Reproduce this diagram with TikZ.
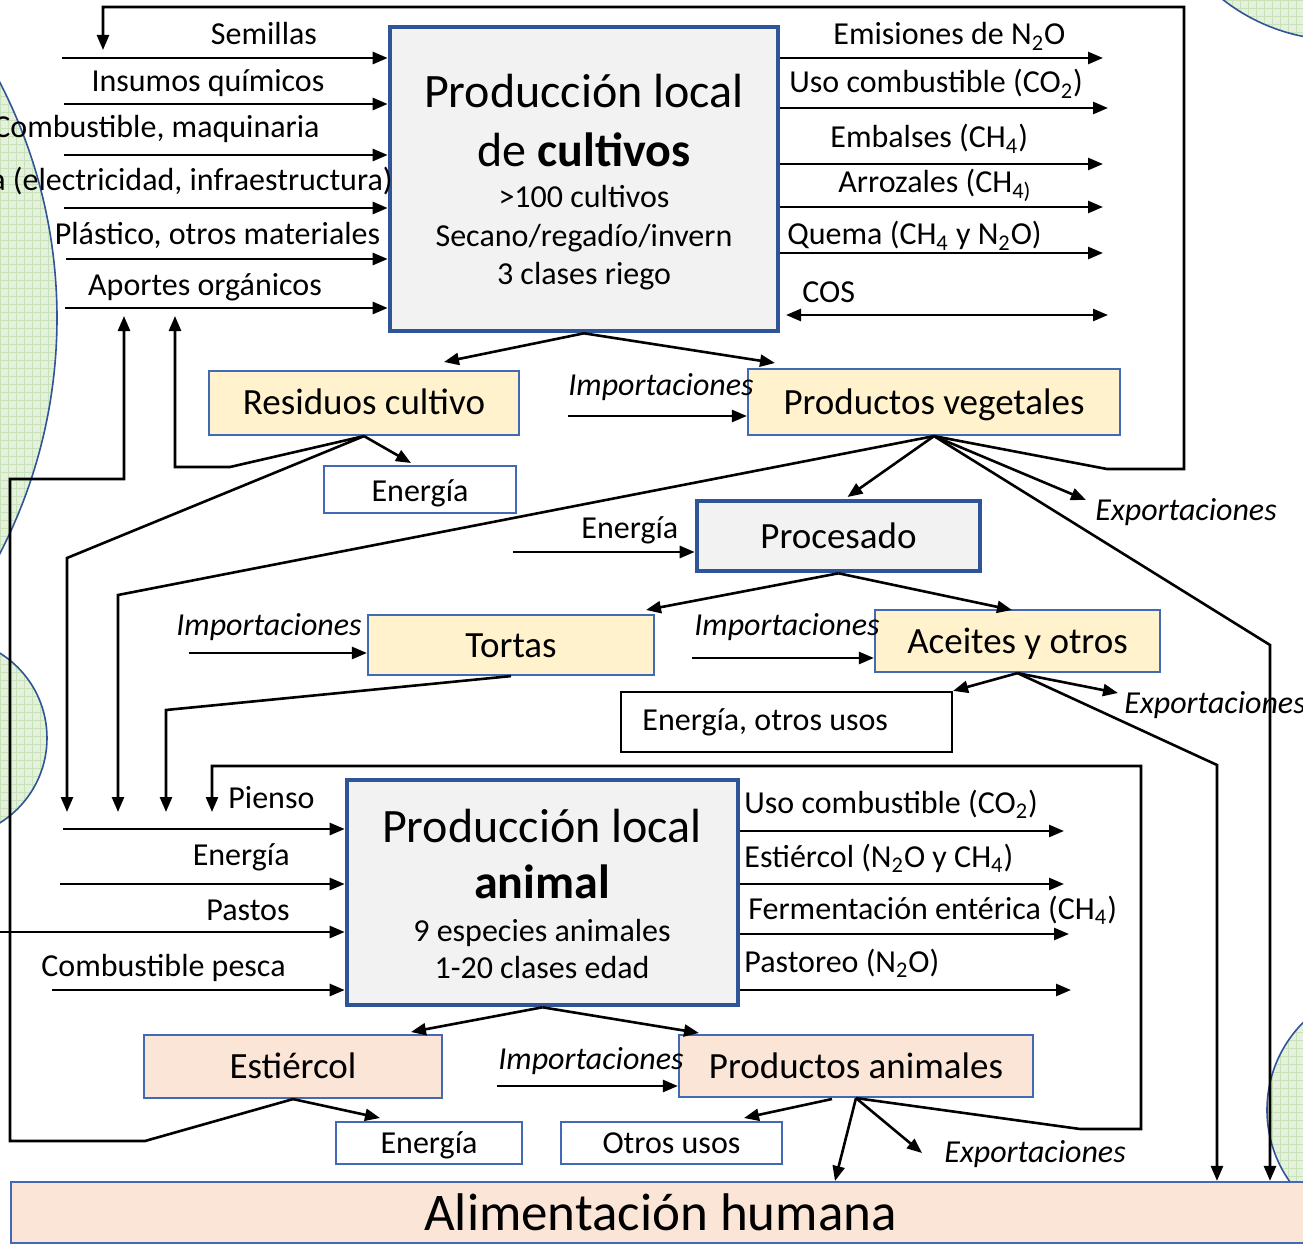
\documentclass[tikz,border=0pt]{standalone}
\usepackage{fontspec}
\setmainfont{Carlito}
\usetikzlibrary{arrows.meta}
\definecolor{dblue}{RGB}{47,85,151}
\definecolor{tblue}{RGB}{65,105,180}
\definecolor{boxgray}{RGB}{242,242,242}
\definecolor{boxyel}{RGB}{255,242,204}
\definecolor{boxpch}{RGB}{251,229,214}
\definecolor{cgreen}{RGB}{228,241,220}
\definecolor{cgrid}{RGB}{200,225,185}
\newcommand\mysub[1]{\textsubscript{#1}}
\begin{document}
\begin{tikzpicture}[x=0.5pt,y=-0.5pt,
  arr/.style={-{Triangle[length=7.5pt,width=6pt]}, line width=1.3pt},
  darr/.style={{Triangle[length=7.5pt,width=6pt]}-{Triangle[length=7.5pt,width=6pt]}, line width=1.3pt},
  lab/.style={font=\fontsize{16}{19}\selectfont, inner sep=0pt},
  ilab/.style={font=\fontsize{16}{19}\selectfont\itshape, inner sep=0pt},
  ttl/.style={font=\fontsize{24}{28}\selectfont, inner sep=0pt},
  bigbox/.style={draw=dblue, line width=2.3pt, fill=boxgray, inner sep=0pt},
  ybox/.style={draw=tblue, line width=1.1pt, fill=boxyel, inner sep=0pt, font=\fontsize{18.5}{22}\selectfont, text height=12pt, text depth=0pt},
  pbox/.style={draw=tblue, line width=1.1pt, fill=boxpch, inner sep=0pt, font=\fontsize{18.5}{22}\selectfont, text height=12pt, text depth=0pt},
  wbox/.style={draw=tblue, line width=1.1pt, fill=white, inner sep=0pt, font=\fontsize{16}{19}\selectfont, text height=12pt, text depth=0pt},
  circ/.style={draw=dblue, line width=0.8pt}
]
\useasboundingbox (0,0) rectangle (1303,1247);
\clip (0,0) rectangle (1303,1247);

% background circles
\foreach \cx/\cy/\r in {-456/318/256.5, -53/738/50, 1340/-150/95, 1391/1110/62}{
  \begin{scope}
    \clip (\cx,\cy) circle[radius=\r pt];
    \fill[cgreen] (\cx,\cy) circle[radius=\r pt];
    \draw[cgrid, line width=0.4pt, step=4pt] (-1000,-500) grid (1400,1300);
  \end{scope}
  \draw[circ] (\cx,\cy) circle[radius=\r pt];
}

% boxes
\node[bigbox, minimum width=194pt, minimum height=152pt] (crop) at (584,179) {};
\node[bigbox, minimum width=141.5pt, minimum height=35pt, font=\fontsize{18.5}{22}\selectfont, text height=12pt, text depth=0pt] (proc) at (838.5,536) {Procesado};
\node[bigbox, minimum width=195.5pt, minimum height=112.5pt] (ani) at (542.5,892.5) {};
\node[ybox, minimum width=155pt, minimum height=32pt] (res) at (364,403) {Residuos cultivo};
\node[ybox, minimum width=186pt, minimum height=33pt] (pv) at (934,402) {Productos vegetales};
\node[wbox, minimum width=96pt, minimum height=23.5pt] (en1) at (420,489.5) {Energía};
\node[ybox, minimum width=143pt, minimum height=30pt] (tor) at (511,645) {Tortas};
\node[ybox, minimum width=142.5pt, minimum height=31pt] (ace) at (1017.5,641) {Aceites y otros};
\node[draw=black, line width=1.1pt, fill=white, inner sep=0pt, minimum width=165.5pt, minimum height=30pt] (eou) at (786.5,722) {};
\node[lab, anchor=base west] (eout) at (642,730) {Energía, otros usos};
\node[pbox, minimum width=149pt, minimum height=31.5pt] (est) at (293,1066.5) {Estiércol};
\node[pbox, minimum width=177pt, minimum height=31pt] (pa) at (856,1066) {Productos animales};
\node[wbox, minimum width=93pt, minimum height=21pt, text height=10pt] (en2) at (429,1143) {Energía};
\node[wbox, minimum width=110.5pt, minimum height=21pt, text height=10pt] (otr) at (671.5,1143) {Otros usos};
\node[pbox, minimum width=649.5pt, minimum height=30.5pt, font=\fontsize{26.5}{31}\selectfont, text height=17.5pt] (ali) at (660.5,1212.5) {Alimentación humana};

% big box texts
\node[ttl, anchor=base] (c1) at (584,108) {Producción local};
\node[ttl, anchor=base] (c2) at (584,167) {de \textbf{cultivos}};
\node[lab, anchor=base] (c3) at (584,208) {>100 cultivos};
\node[lab, anchor=base] (c4) at (584,247) {Secano/regadío/invern};
\node[lab, anchor=base] (c5) at (584,285) {3 clases riego};
\node[ttl, anchor=base] (a1t) at (542,842) {Producción local};
\node[ttl, anchor=base] (a2t) at (542,898) {\textbf{animal}};
\node[lab, anchor=base] (a3t) at (542,941) {9 especies animales};
\node[lab, anchor=base] (a4t) at (542,978) {1-20 clases edad};

% labels top-left
\node[lab, anchor=base] (l1) at (264,45) {Semillas};
\node[lab, anchor=base] (l2) at (208,92) {Insumos químicos};
\node[lab, anchor=base east] (l3) at (320,138) {Combustible, maquinaria};
\node[lab, anchor=base east] (l4) at (393,191) {Energía (electricidad, infraestructura)};
\node[lab, anchor=base] (l5) at (217.5,245) {Plástico, otros materiales};
\node[lab, anchor=base] (l6) at (205,295) {Aportes orgánicos};
% labels top-right
\node[lab, anchor=base west] (r1) at (833,45) {Emisiones de N\mysub{2}O};
\node[lab, anchor=base west] (r2) at (789,93) {Uso combustible (CO\mysub{2})};
\node[lab, anchor=base west] (r3) at (830,148) {Embalses (CH\mysub{4})};
\node[lab, anchor=base west] (r4) at (838,193) {Arrozales (CH\mysub{4)}};
\node[lab, anchor=base west] (r5) at (787,245) {Quema (CH\mysub{4} y N\mysub{2}O)};
\node[lab, anchor=base west] (r6) at (802,302) {COS};
% middle labels
\node[ilab, anchor=base west] (m1) at (568,395) {Importaciones};
\node[lab, anchor=base west] (m2) at (581,538) {Energía};
\node[ilab, anchor=base west] (m3) at (1095,520) {Exportaciones};
\node[ilab, anchor=base west] (m4) at (176,635) {Importaciones};
\node[ilab, anchor=base west] (m5) at (694,635) {Importaciones};
\node[ilab, anchor=base west] (m6) at (1124,713) {Exportaciones};
% animal labels
\node[lab, anchor=base west] (p1) at (228,808) {Pienso};
\node[lab, anchor=base east] (p2) at (290,865) {Energía};
\node[lab, anchor=base east] (p3) at (290,920) {Pastos};
\node[lab, anchor=base west] (p4) at (41,976) {Combustible pesca};
\node[lab, anchor=base west] (q1) at (744,813) {Uso combustible (CO\mysub{2})};
\node[lab, anchor=base west] (q2) at (744,867) {Estiércol (N\mysub{2}O y CH\mysub{4})};
\node[lab, anchor=base west] (q3) at (748,919) {Fermentación entérica (CH\mysub{4})};
\node[lab, anchor=base west] (q4) at (744,972) {Pastoreo (N\mysub{2}O)};
\node[ilab, anchor=base west] (m7) at (498,1069) {Importaciones};
\node[ilab, anchor=base west] (m8) at (944,1162) {Exportaciones};

% coordinates
\coordinate (i1) at (62,58);
\coordinate (i2) at (64,104);
\coordinate (i3) at (64,155);
\coordinate (i4) at (64,208);
\coordinate (i5) at (66,259);
\coordinate (i6) at (65,308);
\coordinate (o1) at (1103,58);
\coordinate (o2) at (1108,108);
\coordinate (o3) at (1103,164);
\coordinate (o4) at (1103,207);
\coordinate (o5) at (1103,253);
\coordinate (cosl) at (786,315);
\coordinate (cosr) at (1108,315);
\coordinate (imp1) at (568,416);
\coordinate (imp2) at (189,653);
\coordinate (imp3) at (692,658);
\coordinate (imp4) at (497,1086);
\coordinate (enp) at (513,552);
\coordinate (ao1) at (175,316);
\coordinate (ao2) at (124,316);
\coordinate (pi1) at (67,812);
\coordinate (pi2) at (118,812);
\coordinate (pi3) at (166,812);
\coordinate (pi4) at (212,812);
\coordinate (sem) at (103,50);
\coordinate (ex1) at (1086,500);
\coordinate (ex2) at (1118,693);
\coordinate (ex3) at (922,1153);
\coordinate (pvk) at (1270,645);
\coordinate (ack) at (1217,765);
\coordinate (ai1) at (63,829);
\coordinate (ai2) at (60,884);
\coordinate (ai3) at (0,932);
\coordinate (ai4) at (52,990);
\coordinate (ao1b) at (1064,831);
\coordinate (ao2b) at (1064,884);
\coordinate (ao3b) at (1069,934);
\coordinate (ao4b) at (1071,990);

% connectors: crop inputs/outputs
\foreach \c in {i1,i2,i3,i4,i5,i6}{ \draw[arr] (\c) -- (\c -| crop.west); }
\foreach \c in {o1,o2,o3,o4,o5}{ \draw[arr] (\c -| crop.east) -- (\c); }
\draw[darr] (cosl) -- (cosr);
\draw[arr] (crop.south) -- ([shift={(80,-41)}]res.center);
\draw[arr] (crop.south) -- ([shift={(-159,-39)}]pv.center);
\draw[arr] (imp1) -- (imp1 -| pv.west);
% residuos
\draw[arr] (res.south) -- ([shift={(-9,-26.5)}]en1.center);
\draw[arr] (res.south) -- (230,467) -- (175,467) -- (ao1);
\draw[arr] (res.south) -- (67,558) -- (pi1);
% productos vegetales
\draw[arr] (pv.south) -- (118,595) -- (pi2);
\draw[arr] (pv.south) -- ([shift={(9,-39)}]proc.center);
\draw[arr] (pv.south) -- (1107,469) -- (1184,469) -- (1184,7) -- (103,7) -- (sem);
\draw[arr] (pv.south) -- (ex1);
\draw[arr] (pv.south) -- (pvk) -- (pvk |- ali.north);
% procesado
\draw[arr] (enp) -- (enp -| proc.west);
\draw[arr] (proc.south) -- ([shift={(135,-35)}]tor.center);
\draw[arr] (proc.south) -- ([shift={(-5.5,-31)}]ace.center);
\draw[arr] (imp2) -- (imp2 -| tor.west);
\draw[arr] (tor.south) -- (166,710) -- (pi3);
\draw[arr] (imp3) -- (imp3 -| ace.west);
\draw[arr] (ace.south) -- (eou.north east);
\draw[arr] (ace.south) -- (ex2);
\draw[arr] (ace.south) -- (ack) -- (ack |- ali.north);
% animal
\draw[arr] (pa.south) -- (1080,1129) -- (1141,1129) -- (1141,766) -- (212,766) -- (pi4);
\foreach \c in {ai1,ai2,ai3,ai4}{ \draw[arr] (\c) -- (\c -| ani.west); }
\foreach \c in {ao1b,ao2b,ao3b,ao4b}{ \draw[arr] (\c -| ani.east) -- (\c); }
\draw[arr] (ani.south) -- ([shift={(118,-34.5)}]est.center);
\draw[arr] (ani.south) -- ([shift={(-157,-33)}]pa.center);
\draw[arr] (imp4) -- (imp4 -| pa.west);
\draw[arr] (est.south) -- ([shift={(-49,-25)}]en2.center);
\draw[arr] (est.south) -- (145,1141) -- (10,1141) -- (10,479) -- (124,479) -- (ao2);
\draw[arr] ([shift={(-24,33)}]pa.center) -- ([shift={(72.5,-25)}]otr.center);
\draw[arr] (pa.south) -- ([shift={(174.5,-31.5)}]ali.center);
\draw[arr] (pa.south) -- (ex3);
\end{tikzpicture}
\end{document}
